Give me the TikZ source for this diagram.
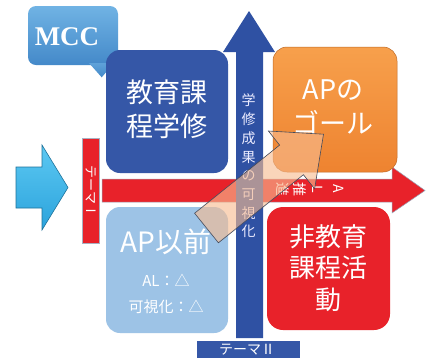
\documentclass[tikz,border=0pt]{standalone}
\usepackage{fontspec}
\setmainfont{Noto Sans CJK JP}
\newfontfamily\mccfont{Liberation Serif}
\definecolor{dblue}{HTML}{3557A7}
\definecolor{arrowblue}{HTML}{2F51A3}
\definecolor{lblue}{HTML}{9DC3E6}
\definecolor{myred}{HTML}{E8222A}
\definecolor{orangeA}{HTML}{F7A04C}
\definecolor{orangeB}{HTML}{EE8330}
\definecolor{cyanA}{HTML}{5CC8F2}
\definecolor{cyanB}{HTML}{2BA3DC}
\definecolor{mccA}{HTML}{70B3E4}
\definecolor{mccB}{HTML}{4489C9}
\definecolor{peach}{HTML}{F8BC90}
\definecolor{edgegray}{HTML}{6F7C98}
\begin{document}
\begin{tikzpicture}[x=1pt,y=-1pt,
  bigtext/.style={text=white, align=center, inner sep=0pt, font=\fontsize{27}{34}\selectfont},
  smalltext/.style={text=white, align=center, inner sep=0pt, font=\fontsize{14}{18.7}\selectfont},
  midtext/.style={text=white, align=center, inner sep=0pt, font=\fontsize{15}{15}\selectfont},
  rotchar/.style={text=white, inner sep=0pt, rotate=-90, font=\fontsize{14}{14}\selectfont}]
\useasboundingbox (0,0) rectangle (427,360);
\fill[white] (0,0) rectangle (427,360);

% MCC callout
\shade[top color=mccA, bottom color=mccB, rounded corners=8pt] (28,6) rectangle (118,65);
\shade[top color=mccA!60!mccB, bottom color=mccB] (89,63) -- (101.7,77.3) -- (114,63) -- cycle;
\node[text=white, font=\mccfont\bfseries\fontsize{27}{27}\selectfont, inner sep=0pt] (mcc) at (67,37) {MCC};

% cyan arrow
\shadedraw[top color=cyanA, bottom color=cyanB, draw=cyanB!70!black, line width=0.6pt]
  (16,167) -- (42,167) -- (42,145) -- (68,187.5) -- (42,230) -- (42,208) -- (16,208) -- cycle;

% left red bar
\fill[myred, draw=edgegray!60, line width=0.5pt] (82,138) rectangle (99,243);
\node[rotchar, font=\fontsize{13}{13}\selectfont] (t1) at (91,191) {テーマⅠ};

% red horizontal arrow
\fill[myred, draw=edgegray!70, line width=0.5pt]
  (102,179) -- (392,179) -- (392,167) -- (425,190.5) -- (392,213) -- (392,202) -- (102,202) -- cycle;

% blue vertical arrow
\fill[arrowblue] (236,338) -- (236,52) -- (223,52) -- (249,11) -- (275,52) -- (263,52) -- (263,338) -- cycle;
\node[smalltext, text=white!92!blue] (vtext) at (248.5,166) {学\\修\\成\\果\\の\\可\\視\\化};

% Theme II label
\fill[dblue] (197,341) rectangle (300,358);
\node[smalltext] (t2) at (247,349.5) {テーマⅡ};

% boxes
\fill[dblue, rounded corners=14pt] (106,50) rectangle (228,173);
\node[bigtext] (kyoiku) at (167,109) {教育課\\程学修};

\fill[lblue, rounded corners=14pt] (106,207) rectangle (228,333);
\node[bigtext, font=\fontsize{28}{28}\selectfont] (apmae) at (166,242) {AP以前};
\node[midtext] (al) at (166,280) {AL：△};
\node[midtext] (kashika) at (166,307) {可視化：△};

\fill[myred, rounded corners=16pt] (267,207) rectangle (390,330);
\node[bigtext, font=\fontsize{26}{31.5}\selectfont] (hikyoiku) at (328,268) {非教育\\課程活\\動};

\shadedraw[top color=orangeA, bottom color=orangeB, draw=orangeB!80!black, line width=0.5pt, rounded corners=14pt] (273,47) rectangle (397,172);
\node[bigtext] (goal) at (333,107.5) {APの\\ゴール};

% AL推進 on red arrow
\node[rotchar] (c1) at (339,189) {A};
\node[rotchar] (c2) at (318,189) {L};
\node[rotchar] (c3) at (300,189) {推};
\node[rotchar] (c4) at (283,189) {進};

% diagonal translucent arrow
\fill[peach, fill opacity=0.62]
  (194.6,213.2) -- (279.6,145.1) -- (268.4,131) -- (323.5,134.2) -- (314.6,188.8) -- (303.4,174.7) -- (218.4,242.8) -- cycle;
\draw[edgegray!60!black, line width=0.6pt]
  (194.6,213.2) -- (279.6,145.1) -- (268.4,131) -- (323.5,134.2) -- (314.6,188.8) -- (303.4,174.7) -- (218.4,242.8) -- cycle;
\end{tikzpicture}
\end{document}
